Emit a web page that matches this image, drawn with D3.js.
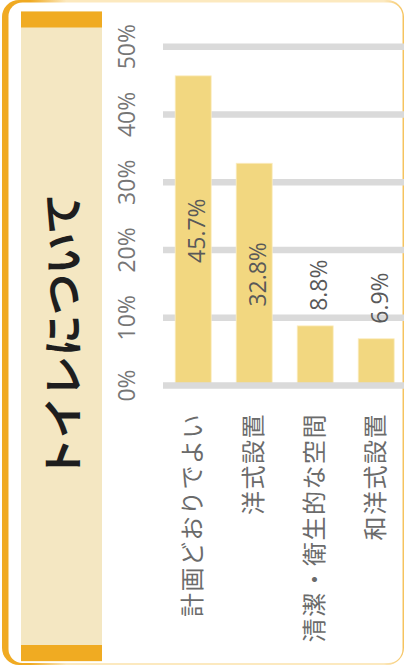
<!DOCTYPE html>
<html>
<head>
<meta charset="utf-8">
<script src="https://cdn.jsdelivr.net/npm/d3@7"></script>
<style>
  body { margin: 0; background: #fff; }
  svg { display: block; }
</style>
</head>
<body>
<div id="chart"></div>
<script>
const title = "トイレについて";
const categories = ["計画どおりでよい", "洋式設置", "清潔・衛生的な空間", "和洋式設置"];
const values = [45.7, 32.8, 8.8, 6.9];
const ticks = [0, 10, 20, 30, 40, 50];

function drawChart() {
    const width = 404;
    const height = 666;
    const numFont = "'Open Sans', 'Liberation Sans', sans-serif";
    const jpFont = "'Noto Sans CJK JP', sans-serif";

    const svg = d3.select("#chart")
        .append("svg")
        .attr("width", width)
        .attr("height", height);

    // frame: orange on the left, fading out to the right
    const grad = svg.append("defs").append("linearGradient")
        .attr("id", "frameGrad")
        .attr("x1", "0").attr("x2", "1").attr("y1", "0").attr("y2", "0");
    grad.append("stop").attr("offset", "0").attr("stop-color", "#f0aa22");
    grad.append("stop").attr("offset", "0.07").attr("stop-color", "#f0aa22");
    grad.append("stop").attr("offset", "0.16").attr("stop-color", "#fce9bf");
    grad.append("stop").attr("offset", "0.95").attr("stop-color", "#fce9bf");
    grad.append("stop").attr("offset", "1").attr("stop-color", "#f5c25c");

    svg.append("rect")
        .attr("x", 2).attr("y", 0)
        .attr("width", 402).attr("height", 665)
        .attr("rx", 17)
        .attr("fill", "url(#frameGrad)");
    svg.append("rect")
        .attr("x", 8.5).attr("y", 2.5)
        .attr("width", 394).attr("height", 660.5)
        .attr("rx", 14)
        .attr("fill", "#fff");

    // title panel
    svg.append("rect")
        .attr("x", 21).attr("y", 11.5)
        .attr("width", 81).attr("height", 650)
        .attr("fill", "#f4e7c2");
    svg.selectAll("rect.cap")
        .data([11.5, 645])
        .enter().append("rect")
        .attr("class", "cap")
        .attr("x", 21).attr("y", function(d) { return d; })
        .attr("width", 81).attr("height", 16)
        .attr("fill", "#f0ab22");

    svg.append("text")
        .attr("transform", "translate(60,336)rotate(-90)")
        .attr("text-anchor", "middle")
        .attr("dominant-baseline", "central")
        .style("font-family", jpFont)
        .style("font-weight", 700)
        .style("font-size", "41px")
        .attr("fill", "#1e1e1e")
        .text(title);

    // scales (vertical bar chart, text rotated)
    const y = d3.scaleLinear()
        .domain([0, 50])
        .range([385.5, 46.7]);

    const x = d3.scaleBand()
        .domain(categories)
        .range([163, 406.4])
        .paddingInner(0.41)
        .paddingOuter(0.2);

    // gridlines
    svg.selectAll("line.grid")
        .data(ticks.slice(1))
        .enter().append("line")
        .attr("class", "grid")
        .attr("x1", 163).attr("x2", 404)
        .attr("y1", function(d) { return y(d); })
        .attr("y2", function(d) { return y(d); })
        .attr("stroke", "#dadada")
        .attr("stroke-width", 6.5);

    // tick labels
    svg.selectAll("text.tick")
        .data(ticks)
        .enter().append("text")
        .attr("class", "tick")
        .attr("transform", function(d) { return "translate(135," + y(d) + ")rotate(-90)"; })
        .attr("text-anchor", "middle")
        .style("font-family", numFont)
        .style("font-size", "23px")
        .attr("fill", "#767676")
        .text(function(d) { return d + "%"; });

    // bars
    svg.selectAll("rect.bar")
        .data(values)
        .enter().append("rect")
        .attr("class", "bar")
        .attr("x", function(d, i) { return x(categories[i]); })
        .attr("width", x.bandwidth())
        .attr("y", function(d) { return y(d); })
        .attr("height", function(d) { return y(0) - y(d); })
        .attr("fill", "#f2d780")
        .attr("stroke", "#fbedc2")
        .attr("stroke-width", 0.8);

    // baseline on top
    svg.append("line")
        .attr("x1", 163).attr("x2", 404)
        .attr("y1", y(0)).attr("y2", y(0))
        .attr("stroke", "#dadada")
        .attr("stroke-width", 6.5);

    // value labels: inside for big bars, above for small ones
    svg.selectAll("text.value")
        .data(values)
        .enter().append("text")
        .attr("class", "value")
        .attr("transform", function(d, i) {
            const cx = x(categories[i]) + x.bandwidth() / 2 + 11.5;
            const cy = d > 20 ? (y(d) + y(0)) / 2 : y(d) - 15;
            return "translate(" + cx + "," + cy + ")rotate(-90)";
        })
        .attr("text-anchor", function(d) { return d > 20 ? "middle" : "start"; })
        .style("font-family", numFont)
        .style("font-size", "23px")
        .attr("fill", "#595959")
        .text(function(d) { return d.toFixed(1) + "%"; });

    // category labels
    svg.selectAll("text.cat")
        .data(categories)
        .enter().append("text")
        .attr("class", "cat")
        .attr("transform", function(d) {
            return "translate(" + (x(d) + x.bandwidth() / 2 - 3) + ",413)rotate(-90)";
        })
        .attr("text-anchor", "end")
        .attr("dominant-baseline", "central")
        .style("font-family", jpFont)
        .style("font-size", "24px")
        .style("letter-spacing", "1.5px")
        .attr("fill", "#6b6b6b")
        .text(function(d) { return d; });
}

document.addEventListener("DOMContentLoaded", drawChart);
</script>
</body>
</html>
